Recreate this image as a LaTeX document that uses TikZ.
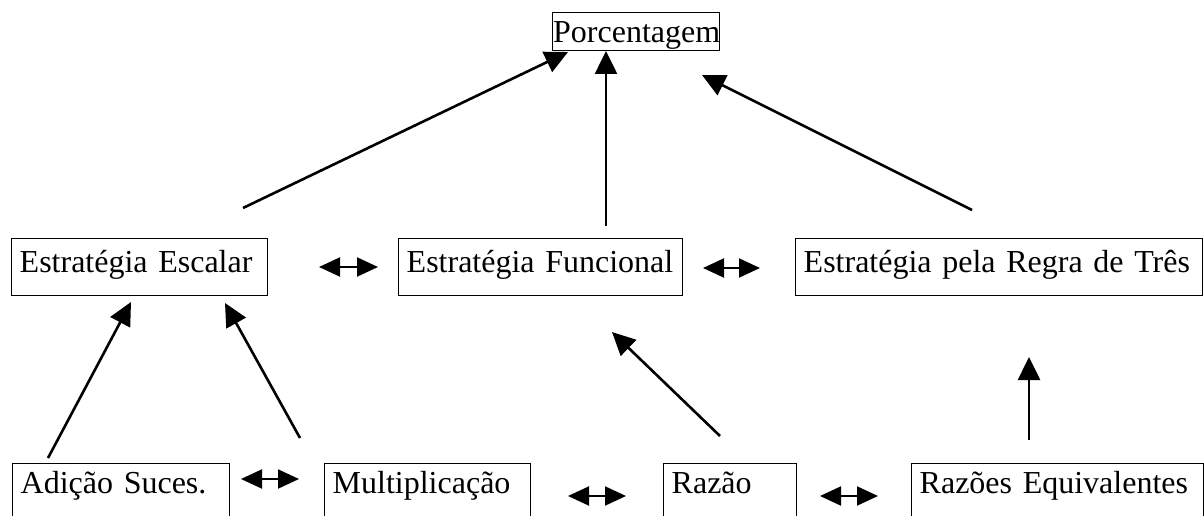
\documentclass[tikz,border=0pt]{standalone}
\usepackage{fontspec}
\setmainfont{Liberation Serif}
\usetikzlibrary{arrows.meta}
\begin{document}
\begin{tikzpicture}[x=1pt,y=-1pt,
  box/.style={draw, line width=1.4pt, fill=white, anchor=north west,
    inner xsep=8pt, inner ysep=0pt, align=left,
    font=\fontsize{32}{38}\selectfont},
  rowa/.style={text height=30pt, text depth=8pt},
  rowb/.style={text height=34pt, text depth=23pt},
  rowc/.style={text height=30pt, text depth=60pt},
  conn/.style={line width=2.6pt, -{Triangle[length=23pt,width=22pt]}},
  both/.style={line width=2pt,
    {Triangle[length=21pt,width=19pt]}-{Triangle[length=21pt,width=19pt]}},
]
\useasboundingbox (0,0) rectangle (1204,516);
\fill[white] (0,0) rectangle (1204,516);
\clip (0,0) rectangle (1204,516);

% end points of the connectors
\coordinate (escT) at (243,208);
\coordinate (porcL) at (568,52);
\coordinate (funT) at (606,226);
\coordinate (porcB) at (606,51);
\coordinate (regT) at (972,210);
\coordinate (porcR) at (702,75);
\coordinate (adiT) at (48,458);
\coordinate (escL) at (131,302);
\coordinate (mulT) at (300,438);
\coordinate (escR) at (225,303);
\coordinate (razT) at (720,436);
\coordinate (funB) at (612,332);
\coordinate (reqT) at (1029,440);
\coordinate (regB) at (1029,357);

\draw[conn] (escT) -- (porcL);
\draw[conn] (funT) -- (porcB);
\draw[conn] (regT) -- (porcR);
\draw[conn] (adiT) -- (escL);
\draw[conn] (mulT) -- (escR);
\draw[conn] (razT) -- (funB);
\draw[conn] (reqT) -- (regB);

% equivalence arrows between neighbouring boxes
\coordinate (e1a) at (319,267); \coordinate (e1b) at (378,267);
\coordinate (e2a) at (703,268); \coordinate (e2b) at (760,268);
\coordinate (e3a) at (241,479); \coordinate (e3b) at (299,479);
\coordinate (e4a) at (568,496); \coordinate (e4b) at (626,496);
\coordinate (e5a) at (820,496); \coordinate (e5b) at (878,496);
\draw[both] (e1a) -- (e1b);
\draw[both] (e2a) -- (e2b);
\draw[both] (e3a) -- (e3b);
\draw[both] (e4a) -- (e4b);
\draw[both] (e5a) -- (e5b);

% boxes
\node[box, rowa, inner xsep=0.5pt, text width=166pt, align=center] (porc) at (552,12) {Porcentagem};
\node[box, rowb, text width=240pt] (esc) at (11,238) {Estratégia Escalar};
\node[box, rowb, text width=268pt] (fun) at (398,238) {Estratégia Funcional};
\node[box, rowb, text width=391pt] (reg) at (795,238) {Estratégia pela Regra de Três};
\node[box, rowc, text width=201pt] (adi) at (12,463) {Adição Suces.};
\node[box, rowc, text width=190pt] (mul) at (324,463) {Multiplicação};
\node[box, rowc, text width=117pt] (raz) at (663,463) {Razão};
\node[box, rowc, text width=276pt] (req) at (911,463) {Razões Equivalentes};
\end{tikzpicture}
\end{document}
